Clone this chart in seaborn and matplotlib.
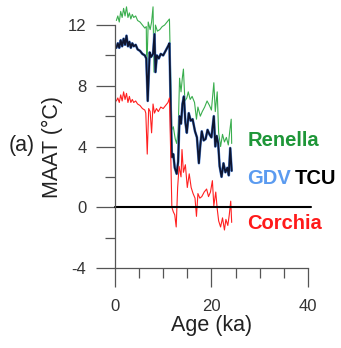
import matplotlib
matplotlib.use("Agg")
import matplotlib.pyplot as plt
from matplotlib.ticker import MultipleLocator
import seaborn as sns

# Renella (green)
age_ren = [0.3, 0.6, 0.9, 1.2, 1.5, 1.8, 2.1, 2.4, 2.7, 3.0, 3.3, 3.6, 3.9, 4.3, 4.7,
           5.2, 5.7, 6.2, 6.5, 6.6, 6.9, 7.3, 7.6, 7.9, 8.1, 8.4, 8.8, 9.3, 9.8, 10.3,
           10.8, 11.3, 11.6, 11.8, 12.1, 12.5, 12.8, 13.1, 13.4, 13.7, 14.0, 14.2, 14.5,
           14.9, 15.2, 15.6, 16.0, 16.5, 16.9, 17.2, 17.7, 18.1, 18.6, 19.1, 19.6, 20.0,
           20.5, 20.8, 21.2, 21.5, 21.9, 22.3, 22.7, 23.1, 23.5, 23.8, 24.1, 24.2]
maat_ren = [12.3, 12.6, 12.2, 12.9, 12.5, 13.1, 12.6, 13.2, 12.5, 12.8, 12.4, 12.7, 12.5,
            12.6, 12.3, 12.2, 12.0, 11.8, 11.9, 8.9, 12.2, 11.7, 12.2, 13.2, 8.9, 12.0,
            11.6, 11.7, 11.9, 12.0, 12.2, 12.4, 8.0, 5.1, 5.3, 4.5, 4.2, 5.0, 8.5, 7.6,
            8.6, 9.1, 7.0, 7.2, 7.6, 7.1, 7.3, 6.9, 5.8, 6.6, 6.0, 6.3, 6.6, 7.0, 6.7,
            6.4, 8.2, 6.3, 7.6, 4.9, 4.0, 4.8, 4.3, 4.6, 4.1, 5.0, 5.8, 4.2]

# GDV / TCU (blue + black)
age_tcu = [0.3, 0.6, 0.9, 1.2, 1.5, 1.8, 2.1, 2.4, 2.7, 3.0, 3.3, 3.6, 3.9, 4.3, 4.7,
           5.2, 5.7, 6.2, 6.5, 6.8, 7.2, 7.5, 7.9, 8.2, 8.4, 8.7, 9.1, 9.5, 10.0, 10.5,
           11.0, 11.3, 11.6, 11.8, 12.1, 12.4, 12.8, 13.1, 13.4, 13.7, 14.0, 14.3, 14.6,
           14.9, 15.3, 15.7, 16.1, 16.6, 17.0, 17.4, 17.7, 18.0, 18.4, 18.8, 19.2, 19.6,
           20.0, 20.5, 20.8, 21.1, 21.4, 21.7, 22.1, 22.5, 22.9, 23.3, 23.6, 23.9, 24.2]
maat_tcu = [10.5, 10.8, 10.5, 11.0, 10.6, 11.1, 10.7, 11.3, 10.6, 10.9, 10.5, 10.8, 10.6,
            10.7, 10.4, 10.3, 10.1, 10.0, 9.8, 7.0, 10.2, 9.9, 10.1, 11.4, 8.9, 10.0,
            9.8, 10.1, 10.0, 10.3, 10.6, 10.8, 6.0, 3.3, 3.5, 2.6, 2.2, 3.0, 6.0, 5.5,
            6.8, 7.3, 5.6, 4.9, 6.2, 5.7, 5.8, 5.0, 4.6, 2.9, 4.1, 5.0, 4.4, 4.5, 5.1,
            4.8, 4.6, 6.0, 4.0, 4.7, 4.2, 2.7, 2.0, 2.9, 2.3, 2.6, 2.1, 3.9, 2.4]

# Corchia (red)
age_cor = [0.3, 0.6, 0.9, 1.2, 1.5, 1.8, 2.1, 2.4, 2.7, 3.0, 3.3, 3.6, 3.9, 4.3, 4.7,
           5.2, 5.7, 6.2, 6.4, 6.7, 7.0, 7.3, 7.6, 7.9, 8.2, 8.6, 9.0, 9.5, 10.0, 10.5,
           11.0, 11.3, 11.6, 11.8, 12.1, 12.4, 12.7, 13.0, 13.3, 13.7, 13.9, 14.2, 14.6,
           15.0, 15.4, 15.8, 16.2, 16.6, 16.9, 17.2, 17.6, 18.0, 18.5, 19.0, 19.4, 19.8,
           20.2, 20.5, 20.9, 21.2, 21.5, 21.9, 22.3, 22.7, 23.0, 23.4, 23.7, 24.0, 24.2]
maat_cor = [7.0, 7.2, 6.9, 7.4, 7.0, 7.6, 7.1, 7.5, 6.9, 7.3, 6.9, 7.1, 6.9, 7.0, 6.8,
            6.7, 6.5, 6.4, 6.2, 3.5, 6.5, 6.3, 4.9, 6.8, 6.2, 6.5, 6.3, 6.6, 6.5, 6.7,
            6.9, 7.2, 3.0, 0.0, -0.3, -0.5, -1.3, 1.3, 2.7, 2.0, 3.8, 2.3, 2.8, 1.3,
            2.2, 1.3, 0.9, 0.6, -0.6, 0.9, 0.6, 0.7, 1.0, 1.2, 0.7, 1.0, 1.75, 0.1, 1.0,
            -0.1, -0.9, -1.3, -0.7, -1.5, -0.8, -1.2, -0.5, 0.4, -1.0]

sns.set_style("ticks")
plt.rcParams['font.family'] = ['Liberation Sans', 'DejaVu Sans']
plt.rcParams['axes.unicode_minus'] = False

fig = plt.figure(figsize=(3.41, 3.48), dpi=100)
ax = fig.add_axes([0.337, 0.230, 0.566, 0.698])

sns.lineplot(x=age_ren, y=maat_ren, ax=ax, color='#3aae4e', lw=0.8, estimator=None, sort=False)
sns.lineplot(x=age_tcu, y=maat_tcu, ax=ax, color='#5a8ee0', lw=1.9, estimator=None, sort=False)
sns.lineplot(x=age_tcu, y=maat_tcu, ax=ax, color='#0e1530', lw=1.3, estimator=None, sort=False)
sns.lineplot(x=age_cor, y=maat_cor, ax=ax, color='#ff2020', lw=0.8, estimator=None, sort=False)
ax.plot([0, 40.6], [0, 0], color='black', lw=1.5, clip_on=False)
for ln in ax.lines:
    ln.set_clip_on(False)

ax.set_xlim(0, 40)
ax.set_ylim(-4, 12)
ax.set_xticks([0, 20, 40])
ax.set_yticks([-4, 0, 4, 8, 12])
ax.xaxis.set_minor_locator(MultipleLocator(5))
ax.yaxis.set_minor_locator(MultipleLocator(2))
sns.despine(ax=ax)
for s in ['left', 'bottom']:
    ax.spines[s].set_color('#555555')
    ax.spines[s].set_linewidth(0.9)
ax.tick_params(which='major', length=13.5, width=0.9, color='#555555',
               labelsize=12, labelcolor='#333333', pad=7)
ax.tick_params(which='minor', length=7, width=0.9, color='#555555')
ax.tick_params(axis='x', which='major', pad=9)

fig.text(52 / 341, 1 - 147 / 348, 'MAAT (°C)', rotation=90, ha='center', va='center',
         fontsize=15.5, color='#222222')
fig.text(22 / 341, 1 - 145 / 348, '(a)', ha='center', va='center', fontsize=15.5,
         color='#222222')
fig.text(211.5 / 341, 1 - 326 / 348, 'Age (ka)', ha='center', va='center',
         fontsize=15.5, color='#222222')

ax.text(27.4, 4.37, 'Renella', color='#1e9638', fontsize=14.5, fontweight='bold',
        va='center', ha='left', clip_on=False)
ax.text(27.4, 1.92, 'GDV', color='#5b9bf0', fontsize=14.5, fontweight='bold',
        va='center', ha='left', clip_on=False)
ax.text(37.3, 1.92, 'TCU', color='black', fontsize=14.5, fontweight='bold',
        va='center', ha='left', clip_on=False)
ax.text(27.4, -1.06, 'Corchia', color='#ff1a1a', fontsize=14.5, fontweight='bold',
        va='center', ha='left', clip_on=False)

fig.savefig('out.png', dpi=100)
